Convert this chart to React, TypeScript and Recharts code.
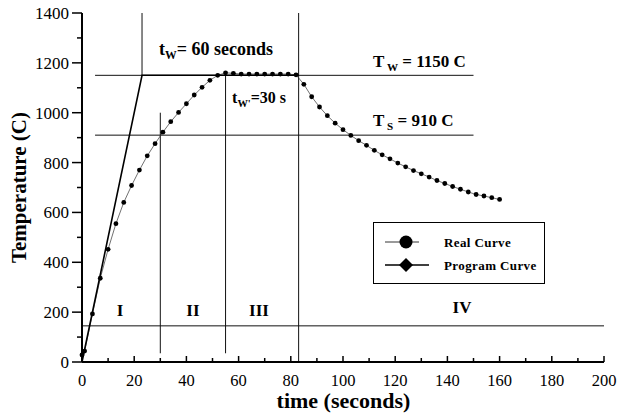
import React from 'react';
import { LineChart, Line, XAxis, YAxis, ReferenceLine, ReferenceDot, Legend } from 'recharts';

const FONT = '"Liberation Serif", "Times New Roman", serif';

// measured real curve (one reading every 3 s)
const realTime = [0, 1, 4, 7, 10, 13, 16, 19, 22, 25, 28, 31, 34, 37, 40, 43, 46, 49, 52, 55, 58, 61, 64, 67, 70, 73, 76, 79, 82, 85, 88, 91, 94, 97, 100, 103, 106, 109, 112, 115, 118, 121, 124, 127, 130, 133, 136, 139, 142, 145, 148, 151, 154, 157, 160];
const realTemp = [28, 44, 193, 336, 452, 555, 640, 708, 770, 827, 876, 922, 964, 1001, 1036, 1071, 1102, 1130, 1150, 1160, 1158, 1155, 1155, 1155, 1155, 1155, 1155, 1155, 1152, 1114, 1064, 1023, 988, 958, 932, 909, 888, 869, 849, 831, 815, 798, 783, 768, 755, 742, 728, 716, 704, 693, 682, 672, 666, 659, 652];

const programTime = [0, 23, 83];
const programTemp = [0, 1150, 1150];

const xTicks = [0, 10, 20, 30, 40, 50, 60, 70, 80, 90, 100, 110, 120, 130, 140, 150, 160, 170, 180, 190, 200];
const yTicks = [0, 100, 200, 300, 400, 500, 600, 700, 800, 900, 1000, 1100, 1200, 1300, 1400];

// horizontal guides: temperature, from time, to time
const levelTemp = [1150, 910, 145];
const levelFrom = [5, 5, 0];
const levelTo = [150, 150, 200];

// vertical guides: time, from temperature, to temperature
const stageTime = [23, 30, 55, 83];
const stageFrom = [1150, 35, 35, 0];
const stageTo = [1400, 1000, 1160, 1400];

const stageNames = ['I', 'II', 'III', 'IV'];
const stageNameTime = [14.6, 42.5, 67.8, 145.6];
const stageNameTemp = [209, 209, 209, 220];

// annotations: main letter, subscript, rest, anchor time, anchor temperature
const notes = [
  { main: 't', sub: 'W', rest: '= 60 seconds', t: 29.5, v: 1256, size: 18 },
  { main: 't', sub: "W'", rest: '=30 s', t: 57.5, v: 1060, size: 16 },
  { main: 'T', sub: ' W', rest: ' = 1150 C', t: 111.5, v: 1207, size: 17 },
  { main: 'T', sub: ' S', rest: ' = 910 C', t: 111.5, v: 971, size: 17 },
];

const legendOrder = ['Real Curve', 'Program Curve'];

const realData = realTime.map((t, i) => ({ t, v: realTemp[i] }));
const programData = programTime.map((t, i) => ({ t, v: programTemp[i] }));

const XTick = (props: any) => {
  const { x, y, payload } = props;
  const major = payload.value % 20 === 0;
  return (
    <g>
      <line x1={x} x2={x} y1={y} y2={y - (major ? 6 : 4)} stroke="#000" strokeWidth={1.5} />
      {major && (
        <text x={x} y={y + 18} dy="0.35em" textAnchor="middle" fontSize={16.5} fontFamily={FONT} fill="#000">
          {payload.value}
        </text>
      )}
    </g>
  );
};

const YTick = (props: any) => {
  const { x, y, payload } = props;
  const major = payload.value % 200 === 0;
  return (
    <g>
      <line x1={x} x2={x - (major ? 10 : 5)} y1={y} y2={y} stroke="#000" strokeWidth={1.5} />
      {major && (
        <text x={x - 13} y={y} dy="0.35em" textAnchor="end" fontSize={17} fontFamily={FONT} fill="#000">
          {payload.value}
        </text>
      )}
    </g>
  );
};

const LegendBox = (props: any) => {
  const payload = [...(props.payload || [])].sort(
    (a: any, b: any) => legendOrder.indexOf(a.value) - legendOrder.indexOf(b.value)
  );
  return (
    <div style={{ width: 172, height: 62, border: '1px solid #000', boxSizing: 'border-box', background: '#fff' }}>
      <svg width={170} height={60} style={{ display: 'block' }}>
        {payload.map((entry: any, i: number) => {
          const cy = 19 + i * 23;
          const round = entry.value === 'Real Curve';
          return (
            <g key={entry.value}>
              <line x1={11} x2={round ? 45 : 55} y1={cy} y2={cy} stroke="#000" strokeWidth={round ? 0.8 : 1.5} />
              {round ? (
                <circle cx={32} cy={cy} r={6.5} fill="#000" />
              ) : (
                <polygon points={`32,${cy - 7} 39,${cy} 32,${cy + 7} 25,${cy}`} fill="#000" />
              )}
              <text x={70} y={cy} dy="0.35em" fontSize={13} fontWeight="bold" fontFamily={FONT} letterSpacing={0.4} fill="#000">
                {entry.value}
              </text>
            </g>
          );
        })}
      </svg>
    </div>
  );
};

const Note = (note: (typeof notes)[number]) => (p: any) => (
  <text x={p.cx} y={p.cy} dy="0.35em" fontSize={note.size} fontWeight="bold" fontFamily={FONT} fill="#000">
    {note.main}
    <tspan fontSize={note.size * 0.65} dy={4}>{note.sub}</tspan>
    <tspan dy={-4}>{note.rest}</tspan>
  </text>
);

const StageName = (name: string) => (p: any) => (
  <text x={p.cx} y={p.cy} dy="0.35em" textAnchor="middle" fontSize={17} fontWeight="bold" fontFamily={FONT} fill="#000">
    {name}
  </text>
);

export default function App() {
  return (
    <div style={{ position: 'absolute', left: 0, top: 0, background: '#fff' }}>
      <LineChart width={617} height={413} margin={{ top: 13, right: 13, bottom: 0, left: 0 }}>
        <XAxis
          dataKey="t"
          type="number"
          domain={[0, 200]}
          ticks={xTicks}
          interval={0}
          height={51}
          tickSize={0}
          tickMargin={0}
          tickLine={false}
          tick={<XTick />}
          axisLine={{ stroke: '#000', strokeWidth: 2 }}
          label={{
            content: (p: any) => {
              const vb = p.viewBox || { x: 82, y: 362, width: 522 };
              return (
                <text x={vb.x + vb.width / 2 + 0.5} y={vb.y + 46} textAnchor="middle" fontSize={22} fontWeight="bold" fontFamily={FONT} fill="#000">
                  time (seconds)
                </text>
              );
            },
          }}
        />
        <XAxis xAxisId="top" orientation="top" type="number" domain={[0, 200]} height={0} tick={false} tickLine={false} axisLine={{ stroke: '#000', strokeWidth: 1.5 }} />
        <YAxis
          type="number"
          domain={[0, 1400]}
          ticks={yTicks}
          interval={0}
          width={82}
          tickSize={0}
          tickMargin={0}
          tickLine={false}
          tick={<YTick />}
          axisLine={{ stroke: '#000', strokeWidth: 2 }}
          label={{
            content: (p: any) => {
              const vb = p.viewBox || { x: 0, y: 13, height: 349 };
              const cy = vb.y + vb.height / 2;
              return (
                <text x={19} y={cy} dy="0.35em" textAnchor="middle" transform={`rotate(-90 19 ${cy})`} fontSize={21} fontWeight="bold" fontFamily={FONT} fill="#000">
                  Temperature (C)
                </text>
              );
            },
          }}
        />
        <YAxis yAxisId="right" orientation="right" type="number" domain={[0, 1400]} width={0} tick={false} tickLine={false} axisLine={{ stroke: '#000', strokeWidth: 2 }} />

        {levelTemp.map((v, i) => (
          <ReferenceLine key={`h${i}`} segment={[{ x: levelFrom[i], y: v }, { x: levelTo[i], y: v }]} stroke="#111" strokeWidth={1} />
        ))}
        {stageTime.map((t, i) => (
          <ReferenceLine key={`v${i}`} segment={[{ x: t, y: stageFrom[i] }, { x: t, y: stageTo[i] }]} stroke="#111" strokeWidth={1} />
        ))}

        <Line data={realData} dataKey="v" name="Real Curve" stroke="#333" strokeWidth={0.7} dot={{ r: 2.4, fill: '#000', stroke: '#000', strokeWidth: 0 }} isAnimationActive={false} legendType="circle" />
        <Line data={programData} dataKey="v" name="Program Curve" type="linear" stroke="#000" strokeWidth={1.6} dot={false} isAnimationActive={false} legendType="diamond" />

        {notes.map((n, i) => (
          <ReferenceDot key={`n${i}`} x={n.t} y={n.v} r={0} shape={Note(n)} />
        ))}
        {stageNames.map((name, i) => (
          <ReferenceDot key={`s${i}`} x={stageNameTime[i]} y={stageNameTemp[i]} r={0} shape={StageName(name)} />
        ))}

        <Legend
          layout="horizontal"
          verticalAlign="middle"
          align="center"
          content={<LegendBox />}
          wrapperStyle={{ position: 'absolute', left: 373, top: 222, width: 172, height: 62 }}
        />
      </LineChart>
    </div>
  );
}
